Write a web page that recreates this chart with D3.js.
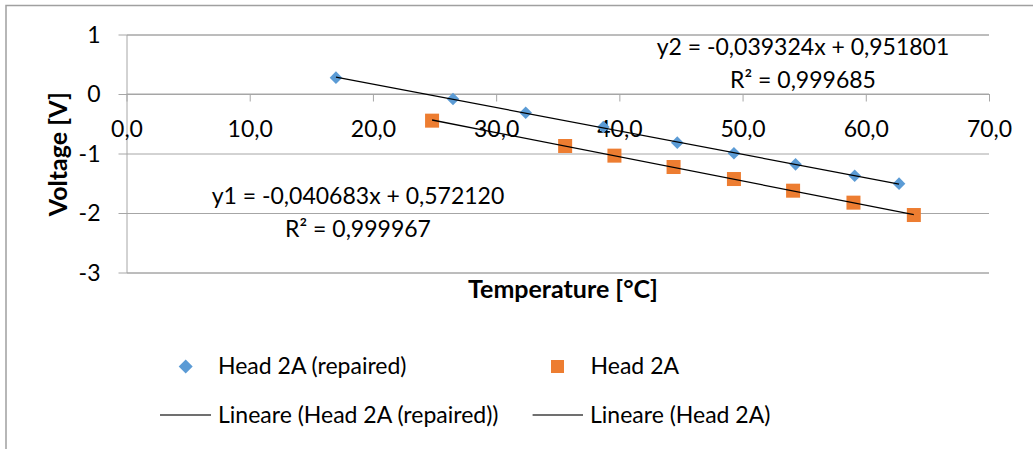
<!DOCTYPE html>
<html>
<head>
<meta charset="utf-8">
<script src="https://cdn.jsdelivr.net/npm/d3@7/dist/d3.min.js"></script>
<style>
  html, body { margin: 0; padding: 0; background: #fff; }
  svg { display: block; }
  text { font-family: Lato, "Noto Sans", sans-serif; fill: #000; }
</style>
</head>
<body>
<svg id="chart" width="1033" height="449"></svg>
<script>
// Temperature [°C] readings and voltages for each head
const tempRepaired = [17.0, 26.5, 32.4, 38.7, 44.7, 49.3, 54.3, 59.1, 62.7];
const voltRepaired = [0.275, -0.085, -0.314, -0.555, -0.818, -0.997, -1.182, -1.373, -1.507];
const tempHead = [24.8, 35.6, 39.6, 44.4, 49.3, 54.1, 59.0, 63.9];
const voltHead = [-0.448, -0.874, -1.036, -1.227, -1.429, -1.625, -1.826, -2.034];

// Linear fits (slope, intercept, R²) as reported on the chart
const fitRepaired = { name: "y2", slope: -0.039324, intercept: 0.951801, r2: 0.999685 };
const fitHead = { name: "y1", slope: -0.040683, intercept: 0.572120, r2: 0.999967 };

const xTicks = [0, 10, 20, 30, 40, 50, 60, 70];
const yTicks = [1, 0, -1, -2, -3];
const seriesNames = ["Head 2A (repaired)", "Head 2A"];
const trendNames = ["Lineare (Head 2A (repaired))", "Lineare (Head 2A)"];

const blue = "#5b9bd5", orange = "#ed7d31", grid = "#a6a6a6";
const svg = d3.select("#chart");

// outer chart frame (runs off the right and bottom edges)
svg.append("rect").attr("x", 6).attr("y", 5.5).attr("width", 1100).attr("height", 500)
  .attr("fill", "none").attr("stroke", "#a0a0a0").attr("stroke-width", 1.5);

const x = d3.scaleLinear().domain([0, 70]).range([126.5, 989]);
const y = d3.scaleLinear().domain([-3, 1]).range([272.5, 34.5]);

const hyphen = s => s.replace(/\u2212/g, "-");
const comma = v => hyphen(d3.format(".1f")(v)).replace(".", ",");
const comma6 = v => hyphen(d3.format(".6f")(v)).replace(".", ",");

// horizontal gridlines + left axis
const yAxis = d3.axisLeft(y).tickValues(yTicks).tickSize(-(x(70) - x(0))).tickPadding(0)
  .tickFormat(d => hyphen(d3.format("d")(d)));
const gy = svg.append("g").attr("transform", `translate(${x(0)},0)`).call(yAxis);
gy.select(".domain").attr("stroke", grid);
gy.selectAll(".tick line").attr("stroke", grid).attr("x1", -8);
gy.selectAll(".tick text").attr("x", -26).attr("dy", null).attr("y", 7.6)
  .style("font-size", "23px").style("font-family", "Lato").attr("fill", "#000");

// x axis crossing at zero volts
const xAxis = d3.axisBottom(x).tickValues(xTicks).tickSize(7.5).tickFormat(comma);
const gx = svg.append("g").attr("transform", `translate(0,${y(0)})`).call(xAxis);
gx.select(".domain").attr("stroke", grid).attr("d", `M${x(0)},0H${x(70)}`);
gx.selectAll(".tick line").attr("stroke", grid);
gx.selectAll(".tick text").attr("dy", null).attr("y", 42.5)
  .style("font-size", "23px").style("font-family", "Lato").attr("fill", "#000");

// trend lines across each series' temperature range
function trend(fit, temps) {
  const x0 = d3.min(temps), x1 = d3.max(temps);
  svg.append("line")
    .attr("x1", x(x0)).attr("y1", y(fit.slope * x0 + fit.intercept))
    .attr("x2", x(x1)).attr("y2", y(fit.slope * x1 + fit.intercept))
    .attr("stroke", "#000").attr("stroke-width", 1.3);
}

function diamondPath(cx, cy, r) { return `M${cx},${cy - r}L${cx + r},${cy}L${cx},${cy + r}L${cx - r},${cy}Z`; }

svg.append("g").selectAll("path").data(d3.zip(tempRepaired, voltRepaired)).join("path")
  .attr("d", d => diamondPath(x(d[0]), y(d[1]), 6.3)).attr("fill", blue);
svg.append("g").selectAll("rect").data(d3.zip(tempHead, voltHead)).join("rect")
  .attr("x", d => x(d[0]) - 7).attr("y", d => y(d[1]) - 7).attr("width", 14).attr("height", 14)
  .attr("fill", orange);

trend(fitRepaired, tempRepaired);
trend(fitHead, tempHead);

// fit equations
function fitLabel(fit, cx, yb) {
  const sign = fit.intercept >= 0 ? "+ " : "- ";
  svg.append("text").attr("x", cx).attr("y", yb).attr("text-anchor", "middle").style("font-size", "23px")
    .text(`${fit.name} = ${comma6(fit.slope)}x ${sign}${comma6(Math.abs(fit.intercept))}`);
  svg.append("text").attr("x", cx).attr("y", yb + 33.3).attr("text-anchor", "middle").style("font-size", "23px")
    .text(`R² = ${comma6(fit.r2)}`);
}
fitLabel(fitRepaired, 803, 55);
fitLabel(fitHead, 358, 204);

// axis titles
svg.append("text").attr("x", 563).attr("y", 298).attr("text-anchor", "middle")
  .style("font-size", "25px").style("font-weight", "bold").text("Temperature [°C]");
svg.append("text").attr("transform", "translate(67,154.2) rotate(-90)").attr("text-anchor", "middle")
  .style("font-size", "25px").style("font-weight", "bold").text("Voltage [V]");

// legend
const lg = svg.append("g");
lg.append("path").attr("d", diamondPath(185.7, 366.5, 7)).attr("fill", blue);
lg.append("text").attr("x", 218).attr("y", 374.3).style("font-size", "23px").text(seriesNames[0]);
lg.append("rect").attr("x", 551).attr("y", 360).attr("width", 13).attr("height", 13).attr("fill", orange);
lg.append("text").attr("x", 590.6).attr("y", 374.3).style("font-size", "23px").text(seriesNames[1]);
lg.append("line").attr("x1", 160).attr("x2", 211).attr("y1", 415).attr("y2", 415).attr("stroke", "#404040").attr("stroke-width", 1.5);
lg.append("text").attr("x", 218).attr("y", 423.3).style("font-size", "23px").text(trendNames[0]);
lg.append("line").attr("x1", 532.6).attr("x2", 583).attr("y1", 415).attr("y2", 415).attr("stroke", "#404040").attr("stroke-width", 1.5);
lg.append("text").attr("x", 590).attr("y", 423.3).style("font-size", "23px").text(trendNames[1]);
</script>
</body>
</html>
